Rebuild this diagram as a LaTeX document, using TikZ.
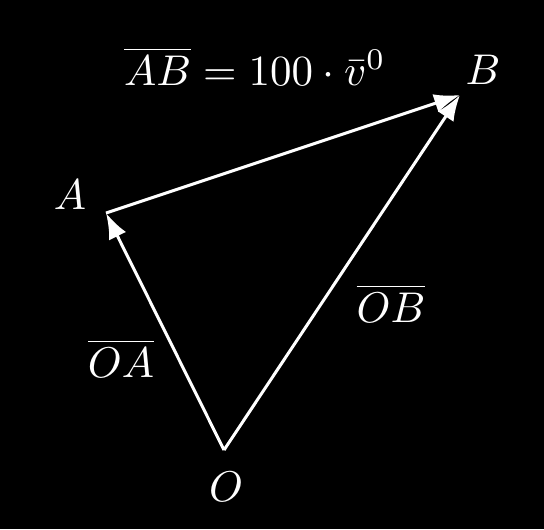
\documentclass[tikz,border=0pt]{standalone}
\usetikzlibrary{arrows.meta}
\begin{document}
\begin{tikzpicture}[x=0.2326pt,y=-0.2326pt,
  vec/.style={white,line width=0.7pt,-{Latex[length=6pt,width=4.4pt]}},
  lbl/.style={text=white,inner sep=0pt}]
\fill[black] (0,0) rectangle (544,529);
\useasboundingbox (0,0) rectangle (544,529);
\coordinate (O) at (224,450);
\coordinate (A) at (106,213);
\coordinate (B) at (460,95);
\draw[vec] (O) -- (A);
\draw[vec] (O) -- (B);
\draw[vec] (A) -- (B);
\node[lbl] (lA) at (70,195) {$A$};
\node[lbl] (lB) at (483,70) {$B$};
\node[lbl] (lO) at (226,487) {$O$};
\node[lbl] (lAB) at (255,66) {$\overline{AB}=100\cdot\bar{v}^0$};
\node[lbl] (lOA) at (121,358) {$\overline{OA}$};
\node[lbl] (lOB) at (391,303) {$\overline{OB}$};
\end{tikzpicture}
\end{document}
